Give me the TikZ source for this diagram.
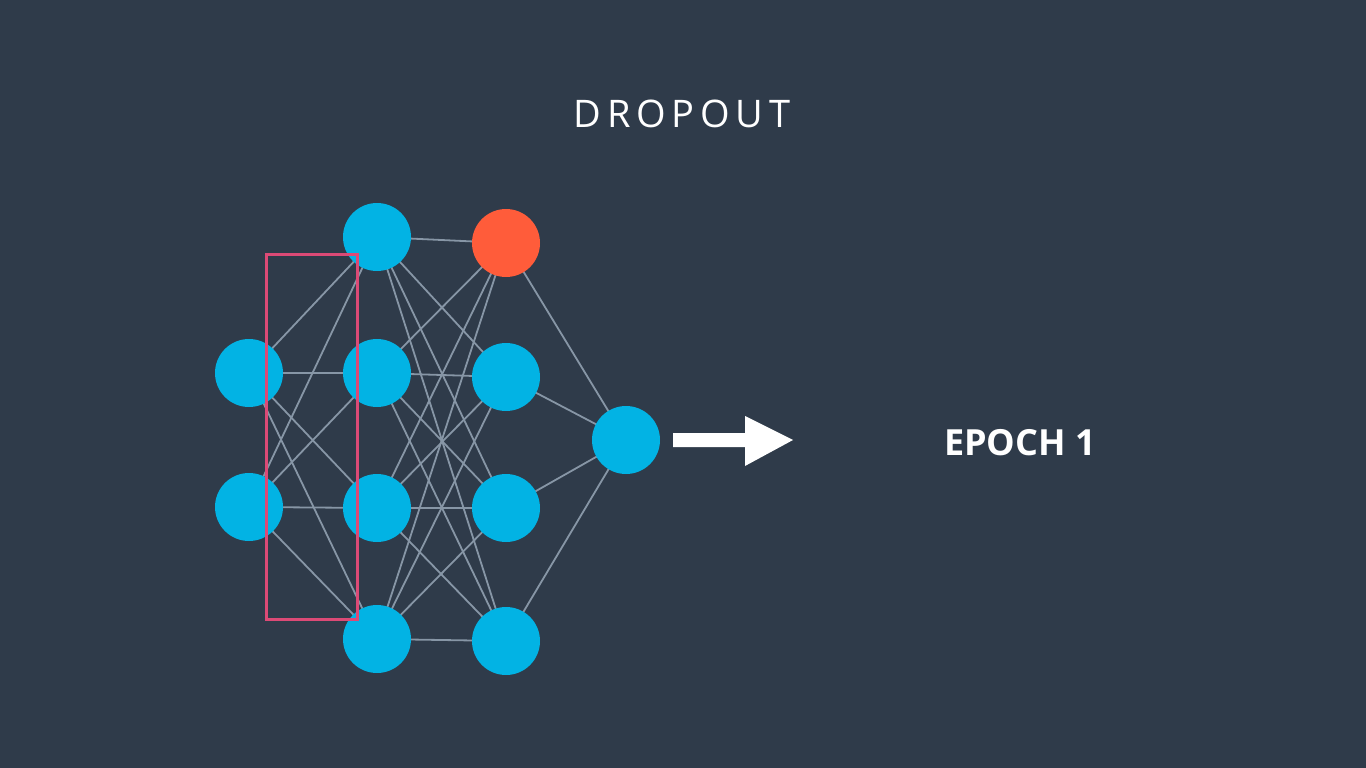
\documentclass[tikz,border=0pt]{standalone}
\usepackage{fontspec}
\setmainfont{Open Sans}
\newfontfamily\spacedfont[LetterSpace=15]{Open Sans}
\definecolor{bg}{HTML}{2F3B4A}
\definecolor{nblue}{HTML}{02B3E4}
\definecolor{norange}{HTML}{FF5C3A}
\definecolor{edgec}{HTML}{8796A6}
\definecolor{boxc}{HTML}{DC4A76}
\begin{document}
\begin{tikzpicture}[x=1pt,y=-1pt,
  neuron/.style={circle,fill=nblue,minimum size=68pt,inner sep=0pt},
  dropped/.style={neuron,fill=norange},
  link/.style={draw=edgec,line width=1.8pt},
  selbox/.style={draw=boxc,line width=3pt}]
\fill[bg] (0,0) rectangle (1366,768);
\useasboundingbox (0,0) rectangle (1366,768);
% layer 1
\coordinate (a1) at (249,373);
\coordinate (a2) at (249,507);
% layer 2
\coordinate (b1) at (377,237);
\coordinate (b2) at (377,373);
\coordinate (b3) at (377,508);
\coordinate (b4) at (377,639);
% layer 3
\coordinate (c1) at (506,243);
\coordinate (c2) at (506,377);
\coordinate (c3) at (506,508);
\coordinate (c4) at (506,641);
% output
\coordinate (d1) at (626,440);
% edges
\foreach \i in {a1,a2}{\foreach \j in {b1,b2,b3,b4}{\draw[link] (\i) -- (\j);}}
\foreach \i in {b1,b2,b3,b4}{\foreach \j in {c1,c2,c3,c4}{\draw[link] (\i) -- (\j);}}
\foreach \i in {c1,c2,c3,c4}{\draw[link] (\i) -- (d1);}
% neurons
\node[neuron] (na1) at (a1) {};
\node[neuron] (na2) at (a2) {};
\node[neuron] (nb1) at (b1) {};
\node[neuron] (nb2) at (b2) {};
\node[neuron] (nb3) at (b3) {};
\node[neuron] (nb4) at (b4) {};
\node[dropped] (nc1) at (c1) {};
\node[neuron] (nc2) at (c2) {};
\node[neuron] (nc3) at (c3) {};
\node[neuron] (nc4) at (c4) {};
\node[neuron] (nd1) at (d1) {};
% selection box
\draw[selbox] (266,254) rectangle (357,619);
% arrow
\coordinate (arrE) at (793,440);
\fill[white] (673,433) -- (745,433) -- (745,416) -- (arrE) -- (745,466) -- (745,447) -- (673,447) -- cycle;
% texts
\node[text=white,font=\spacedfont\fontsize{38}{40}\selectfont,inner sep=0pt] (title) at (682,114) {DROPOUT};
\node[text=white,font=\bfseries\fontsize{36}{40}\selectfont,inner sep=0pt] (epoch) at (1020,443) {EPOCH 1};
\end{tikzpicture}
\end{document}
